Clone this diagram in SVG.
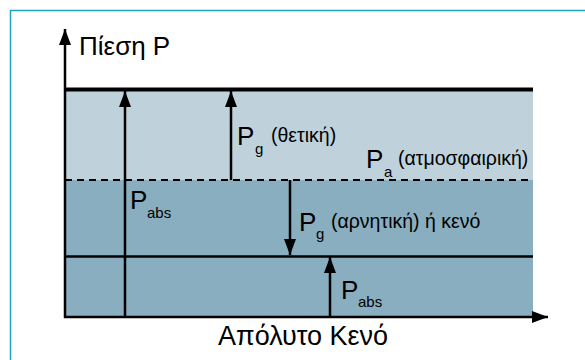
<svg xmlns="http://www.w3.org/2000/svg" width="585" height="360" viewBox="0 0 585 360">
<style>
text{font-family:"Liberation Sans",Arial,sans-serif;fill:#000}
.big{font-size:26px}
.sub{font-size:15px}
.mid{font-size:19.5px}
.ln{stroke:#000;fill:none}
</style>
<defs>
<marker id="ah" viewBox="0 0 16 12" refX="16" refY="6" markerWidth="16" markerHeight="12" markerUnits="userSpaceOnUse" orient="auto">
<path d="M0,0 L16,6 L0,12 Z" fill="#000"/>
</marker>
</defs>
<rect x="0" y="0" width="585" height="360" fill="#fff"/>
<path d="M10.5,370 V10.5 H600" fill="none" stroke="#1ea2c2" stroke-width="1.5"/>
<g id="regions">
<rect x="65" y="89" width="468" height="91" fill="#bfd2dc"/>
<rect x="65" y="180" width="468" height="137" fill="#88aec0"/>
</g>
<g id="levels">
<line class="ln" x1="65" y1="89.5" x2="533" y2="89.5" stroke-width="4"/>
<line class="ln" x1="65" y1="180" x2="533" y2="180" stroke-width="2" stroke-dasharray="7,5"/>
<line class="ln" x1="65" y1="256.5" x2="533" y2="256.5" stroke-width="2.5"/>
</g>
<g id="connectors">
<line class="ln" x1="65" y1="318" x2="65" y2="29" stroke-width="2.5" marker-end="url(#ah)"/>
<line class="ln" x1="64" y1="317" x2="548" y2="317" stroke-width="2.5" marker-end="url(#ah)"/>
<line class="ln" x1="125" y1="317" x2="125" y2="91" stroke-width="2.5" marker-end="url(#ah)"/>
<line class="ln" x1="231" y1="180" x2="231" y2="91" stroke-width="2.5" marker-end="url(#ah)"/>
<line class="ln" x1="290" y1="180" x2="290" y2="255" stroke-width="2.5" marker-end="url(#ah)"/>
<line class="ln" x1="330" y1="317" x2="330" y2="257" stroke-width="2.5" marker-end="url(#ah)"/>
</g>
<g id="label-pressure"><text class="big" x="79" y="55">Πίεση P</text></g>
<g id="label-pg-pos"><text class="big" x="237" y="145">P</text><text class="sub" x="255" y="154">g</text><text class="mid" x="271" y="142">(θετική)</text></g>
<g id="label-pa"><text class="big" x="366" y="168">P</text><text class="sub" x="384" y="177">a</text><text class="mid" x="398" y="165">(ατμοσφαιρική)</text></g>
<g id="label-pabs1"><text class="big" x="130" y="209">P</text><text class="sub" x="147" y="218">abs</text></g>
<g id="label-pg-neg"><text class="big" x="299" y="231">P</text><text class="sub" x="316" y="239">g</text><text class="mid" x="331" y="228">(αρνητική) ή κενό</text></g>
<g id="label-pabs2"><text class="big" x="341" y="299">P</text><text class="sub" x="358" y="307">abs</text></g>
<g id="label-vacuum"><text x="218" y="345" font-size="27">Απόλυτο Κενό</text></g>
</svg>
